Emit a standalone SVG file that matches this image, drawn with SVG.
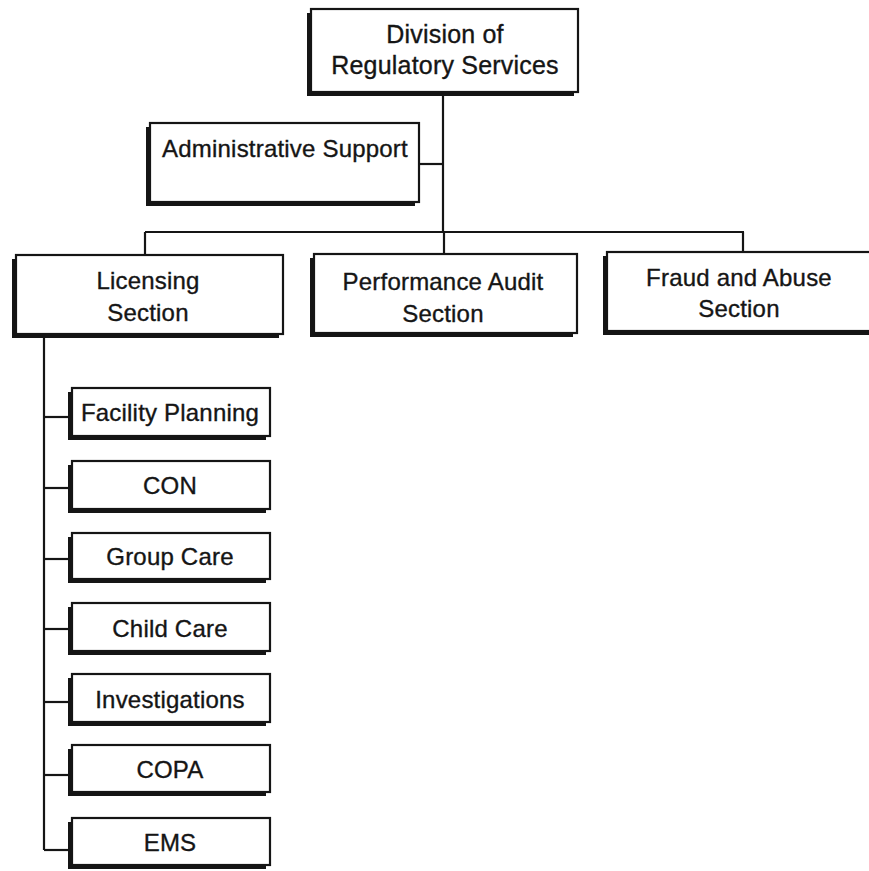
<svg xmlns="http://www.w3.org/2000/svg" width="869" height="871" viewBox="0 0 869 871">
  <defs>
    <style>
      .shadow { fill: #151515; }
      .box { fill: #ffffff; stroke: #151515; stroke-width: 2.2; }
      .lbl { font-family: "Liberation Sans", Arial, Helvetica, sans-serif; font-size: 24px; fill: #151515; stroke: #151515; stroke-width: 0.35px; text-anchor: middle; letter-spacing: 0.2px; }
      .big { font-size: 25px; }
      .conn line { stroke: #151515; stroke-width: 2.2; fill: none; }
    </style>
  </defs>
  <rect width="869" height="871" fill="#ffffff"/>

  <!-- connectors -->
  <g id="connectors" class="conn">
    <line x1="443" y1="95" x2="443" y2="233"/>
    <line x1="419" y1="164" x2="443" y2="164"/>
    <line x1="145" y1="232" x2="744" y2="232"/>
    <line x1="145" y1="232" x2="145" y2="255"/>
    <line x1="444" y1="232" x2="444" y2="254"/>
    <line x1="743" y1="232" x2="743" y2="252"/>
    <line x1="44" y1="338" x2="44" y2="850"/>
    <line x1="44" y1="417" x2="70" y2="417"/>
    <line x1="44" y1="488" x2="70" y2="488"/>
    <line x1="44" y1="559" x2="70" y2="559"/>
    <line x1="44" y1="629" x2="70" y2="629"/>
    <line x1="44" y1="702" x2="70" y2="702"/>
    <line x1="44" y1="775" x2="70" y2="775"/>
    <line x1="44" y1="850" x2="70" y2="850"/>
  </g>

  <!-- top level -->
  <g id="division">
    <rect class="shadow" x="307" y="13" width="267" height="83"/>
    <rect class="box" x="311" y="9" width="267" height="83"/>
    <text class="lbl big" x="445" y="43">Division of</text>
    <text class="lbl big" x="445" y="74">Regulatory Services</text>
  </g>

  <g id="admin-support">
    <rect class="shadow" x="146" y="127" width="269" height="79"/>
    <rect class="box" x="150" y="123" width="269" height="79"/>
    <text class="lbl" x="285" y="157">Administrative Support</text>
  </g>

  <!-- sections -->
  <g id="licensing">
    <rect class="shadow" x="12" y="259" width="267" height="79"/>
    <rect class="box" x="16" y="255" width="267" height="79"/>
    <text class="lbl" x="148" y="289">Licensing</text>
    <text class="lbl" x="148" y="321">Section</text>
  </g>

  <g id="performance-audit">
    <rect class="shadow" x="310" y="258" width="263" height="79"/>
    <rect class="box" x="314" y="254" width="263" height="79"/>
    <text class="lbl" x="443" y="290">Performance Audit</text>
    <text class="lbl" x="443" y="322">Section</text>
  </g>

  <g id="fraud-abuse">
    <rect class="shadow" x="603" y="256" width="270" height="79"/>
    <rect class="box" x="607" y="252" width="270" height="79"/>
    <text class="lbl" x="739" y="286">Fraud and Abuse</text>
    <text class="lbl" x="739" y="317">Section</text>
  </g>

  <!-- licensing units -->
  <g id="facility-planning">
    <rect class="shadow" x="68" y="392" width="198" height="48"/>
    <rect class="box" x="72" y="388" width="198" height="48"/>
    <text class="lbl" x="170" y="421">Facility Planning</text>
  </g>

  <g id="con">
    <rect class="shadow" x="68" y="465" width="198" height="48"/>
    <rect class="box" x="72" y="461" width="198" height="48"/>
    <text class="lbl" x="170" y="494">CON</text>
  </g>

  <g id="group-care">
    <rect class="shadow" x="68" y="537" width="198" height="46"/>
    <rect class="box" x="72" y="533" width="198" height="46"/>
    <text class="lbl" x="170" y="565">Group Care</text>
  </g>

  <g id="child-care">
    <rect class="shadow" x="68" y="607" width="198" height="48"/>
    <rect class="box" x="72" y="603" width="198" height="48"/>
    <text class="lbl" x="170" y="637">Child Care</text>
  </g>

  <g id="investigations">
    <rect class="shadow" x="68" y="678" width="198" height="48"/>
    <rect class="box" x="72" y="674" width="198" height="48"/>
    <text class="lbl" x="170" y="708">Investigations</text>
  </g>

  <g id="copa">
    <rect class="shadow" x="68" y="749" width="198" height="47"/>
    <rect class="box" x="72" y="745" width="198" height="47"/>
    <text class="lbl" x="170" y="778">COPA</text>
  </g>

  <g id="ems">
    <rect class="shadow" x="68" y="822" width="198" height="47"/>
    <rect class="box" x="72" y="818" width="198" height="47"/>
    <text class="lbl" x="170" y="851">EMS</text>
  </g>
</svg>
